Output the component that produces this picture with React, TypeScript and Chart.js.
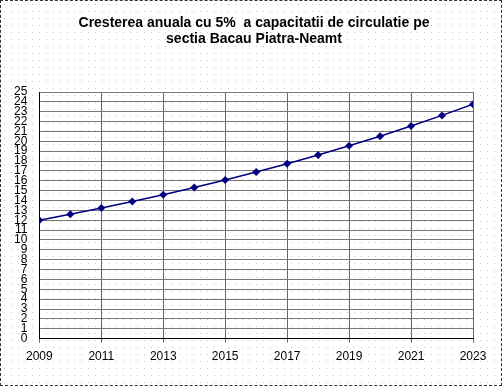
import React, { useEffect, useRef } from "react";
import { Chart, registerables } from "chart.js";

Chart.register(...registerables);

const titleLines = ["Cresterea anuala cu 5%  a capacitatii de circulatie pe", "sectia Bacau Piatra-Neamt"];
const years = [2009, 2010, 2011, 2012, 2013, 2014, 2015, 2016, 2017, 2018, 2019, 2020, 2021, 2022, 2023];
const capacity = [12.0, 12.6, 13.23, 13.89, 14.59, 15.32, 16.08, 16.88, 17.73, 18.62, 19.55, 20.52, 21.55, 22.63, 23.76];

const FONT = "'Liberation Sans', Arial, sans-serif";

const titlePlugin = {
  id: "customTitle",
  afterDraw(chart: any) {
    const c = chart.ctx;
    c.save();
    c.fillStyle = "#000";
    c.font = `bold 14px ${FONT}`;
    c.textAlign = "center";
    c.textBaseline = "alphabetic";
    c.fillText(titleLines[0], 254, 27);
    c.fillText(titleLines[1], 254, 43);
    c.restore();
  },
};

export default function App() {
  const ref = useRef<HTMLCanvasElement | null>(null);
  useEffect(() => {
    document.body.style.margin = "0";
    const ctx = ref.current!.getContext("2d")!;
    const chart = new Chart(ctx, {
      type: "line",
      data: {
        datasets: [
          {
            data: years.map((y, i) => ({ x: y, y: capacity[i] })),
            borderColor: "#000080",
            backgroundColor: "#000080",
            borderWidth: 1.5,
            pointStyle: "rectRot",
            pointRadius: 4,
            pointBorderWidth: 0,
            tension: 0,
          },
        ],
      },
      options: {
        animation: false,
        responsive: false,
        maintainAspectRatio: false,
        layout: { padding: { left: 2, right: 29, top: 92, bottom: 15 } },
        plugins: {
          legend: { display: false },
          tooltip: { enabled: false },
          title: { display: false },
        },
        scales: {
          x: {
            type: "linear",
            min: 2009,
            max: 2023,
            ticks: {
              stepSize: 2,
              color: "#000",
              font: { family: FONT, size: 12 },
              padding: 7,
              maxRotation: 0,
              callback: (v: any) => String(v),
            },
            grid: { color: "#666", lineWidth: 1, tickLength: 4 },
            border: { color: "#000", width: 1 },
          },
          y: {
            min: 0,
            max: 25,
            ticks: {
              stepSize: 1,
              color: "#000",
              font: { family: FONT, size: 12 },
              padding: 12,
              autoSkip: false,
            },
            grid: { color: "#777", lineWidth: 1, drawTicks: false },
            border: { color: "#000", width: 1 },
          },
        },
      },
      plugins: [titlePlugin],
    });
    return () => chart.destroy();
  }, []);
  return (
    <div
      style={{
        position: "absolute",
        left: 0,
        top: 0,
        width: 502,
        height: 386,
        boxSizing: "border-box",
        border: "1px dashed #333",
        backgroundColor: "#fff",
        backgroundImage: "radial-gradient(circle, #c8c8c8 0.7px, transparent 1px)",
        backgroundSize: "7px 7px",
        overflow: "hidden",
      }}
    >
      <canvas ref={ref} width={502} height={386} style={{ position: "absolute", left: -1, top: -1 }} />
    </div>
  );
}
